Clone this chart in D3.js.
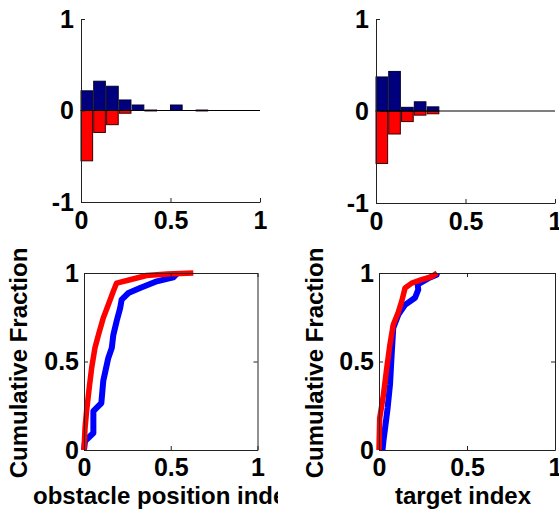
<!DOCTYPE html>
<html lang="en">
  <head>
    <meta charset="utf-8">
    <title>Histograms and cumulative fractions</title>
    <script src="https://d3js.org/d3.v7.min.js"></script>
    <style type="text/css">
      body { margin: 0; background: #fff; }
      text { font-family: "Liberation Sans", Arial, sans-serif; font-weight: bold; fill: #000; }
      .tick text { font-size: 25px; }
      .axis path, .axis line { stroke: #222; stroke-width: 1px; }
      .lbl { font-size: 24px; }
    </style>
  </head>
  <body>
    <script>
      var w = 559;
      var h = 514;

      // histogram bins (left edge of each bar)
      var obstacleBins = [0, 0.071, 0.143, 0.214, 0.286, 0.357, 0.429, 0.5, 0.571, 0.643];
      var obstacleBlue = [0.215, 0.32, 0.265, 0.115, 0.06, 0.005, 0, 0.06, 0, 0.005];
      var obstacleRed = [-0.55, -0.24, -0.155, -0.03, 0, -0.005, 0, 0, 0, -0.005];

      var targetBins = [0, 0.071, 0.143, 0.214, 0.286];
      var targetBlue = [0.37, 0.43, 0.04, 0.10, 0.045];
      var targetRed = [-0.57, -0.25, -0.115, -0.045, -0.03];

      // cumulative fractions [x, y]
      var obstacleCdfBlue = [[0, 0], [0.006, 0.05], [0.054, 0.096], [0.054, 0.22], [0.10, 0.265],
        [0.111, 0.39], [0.121, 0.435], [0.14, 0.52], [0.16, 0.576], [0.169, 0.65],
        [0.188, 0.727], [0.208, 0.80], [0.217, 0.85], [0.256, 0.887], [0.323, 0.915],
        [0.42, 0.953], [0.515, 0.975], [0.54, 1.0]];
      var obstacleCdfRed = [[0, 0], [0.006, 0.124], [0.015, 0.22], [0.03, 0.35], [0.044, 0.463],
        [0.063, 0.576], [0.083, 0.65], [0.111, 0.746], [0.14, 0.82], [0.169, 0.897],
        [0.188, 0.943], [0.265, 0.962], [0.36, 0.986], [0.48, 0.995], [0.63, 1.0]];

      var targetCdfBlue = [[0.02, 0], [0.025, 0.05], [0.034, 0.12], [0.049, 0.237], [0.0625, 0.37],
        [0.072, 0.54], [0.081, 0.69], [0.11, 0.765], [0.148, 0.82], [0.205, 0.86],
        [0.223, 0.906], [0.22, 0.935], [0.28, 0.97], [0.327, 0.99], [0.33, 1.0]];
      var targetCdfRed = [[0, 0], [0.004, 0.18], [0.025, 0.31], [0.044, 0.463], [0.062, 0.595],
        [0.081, 0.708], [0.11, 0.78], [0.129, 0.84], [0.148, 0.915], [0.186, 0.943],
        [0.242, 0.962], [0.30, 0.98], [0.33, 1.0]];

      var xTicks = [0, 0.5, 1];
      var histTicks = [-1, 0, 1];
      var cdfTicks = [0, 0.5, 1];

      var svg = d3.select("body").append("svg")
          .attr("width", w).attr("height", h);

      svg.append("rect").attr("width", w).attr("height", h).attr("fill", "#fff");

      var fmt = d => String(d);

      function histogram(x0, x1, yTop, yBot, bins, blue, red) {
        var x = d3.scaleLinear().domain([0, 1]).range([x0, x1]);
        var y = d3.scaleLinear().domain([-1, 1]).range([yBot, yTop]);
        var g = svg.append("g");
        var bw = 0.065;

        g.selectAll(".red").data(bins).enter().append("rect")
          .attr("x", d => x(d))
          .attr("width", x(bw) - x(0))
          .attr("y", y(0))
          .attr("height", (d, i) => y(red[i]) - y(0))
          .attr("fill", "#ff0000").attr("stroke", "#3a0000").attr("stroke-width", 1);

        g.selectAll(".blue").data(bins).enter().append("rect")
          .attr("x", d => x(d))
          .attr("width", x(bw) - x(0))
          .attr("y", (d, i) => y(blue[i]))
          .attr("height", (d, i) => y(0) - y(blue[i]))
          .attr("fill", "#00007f").attr("stroke", "#000030").attr("stroke-width", 1);

        g.append("line")
          .attr("x1", x(0)).attr("x2", x(1))
          .attr("y1", y(0)).attr("y2", y(0))
          .attr("stroke", "#000").attr("stroke-width", 1.2);

        g.append("g").attr("class", "axis")
          .attr("transform", "translate(0," + yBot + ")")
          .call(d3.axisBottom(x).tickValues(xTicks).tickFormat(fmt)
            .tickSize(-4).tickSizeOuter(0).tickPadding(9));
        g.append("g").attr("class", "axis")
          .attr("transform", "translate(" + x0 + ",0)")
          .call(d3.axisLeft(y).tickValues(histTicks).tickFormat(fmt)
            .tickSize(-4).tickSizeOuter(0).tickPadding(7));
      }

      function cdf(x0, x1, yTop, yBot, blue, red) {
        var x = d3.scaleLinear().domain([0, 1]).range([x0, x1]);
        var y = d3.scaleLinear().domain([0, 1]).range([yBot, yTop]);
        var g = svg.append("g");

        var line = d3.line().x(d => x(d[0])).y(d => y(d[1]));

        g.append("path").datum(blue).attr("d", line)
          .attr("fill", "none").attr("stroke", "#0000ff").attr("stroke-width", 6)
          .attr("stroke-linejoin", "round");
        g.append("path").datum(red).attr("d", line)
          .attr("fill", "none").attr("stroke", "#ff0000").attr("stroke-width", 5.5)
          .attr("stroke-linejoin", "round");

        g.append("g").attr("class", "axis")
          .attr("transform", "translate(0," + yBot + ")")
          .call(d3.axisBottom(x).tickValues(xTicks).tickFormat(fmt)
            .tickSize(-4).tickSizeOuter(0).tickPadding(8));
        g.append("g").attr("class", "axis")
          .attr("transform", "translate(" + x0 + ",0)")
          .call(d3.axisLeft(y).tickValues(cdfTicks).tickFormat(fmt)
            .tickSize(-4).tickSizeOuter(0).tickPadding(5));
        g.append("g").attr("class", "axis")
          .attr("transform", "translate(0," + yTop + ")")
          .call(d3.axisTop(x).tickValues(xTicks).tickFormat("")
            .tickSize(-4).tickSizeOuter(0));
        g.append("g").attr("class", "axis")
          .attr("transform", "translate(" + x1 + ",0)")
          .call(d3.axisRight(y).tickValues(cdfTicks).tickFormat("")
            .tickSize(-4).tickSizeOuter(0));
      }

      histogram(81, 260, 19, 202, obstacleBins, obstacleBlue, obstacleRed);
      histogram(376, 555, 19, 203, targetBins, targetBlue, targetRed);
      cdf(84, 257.5, 273, 450, obstacleCdfBlue, obstacleCdfRed);
      cdf(379, 555, 273, 450, targetCdfBlue, targetCdfRed);

      svg.selectAll(".domain").attr("stroke", "#222");

      // axis labels
      svg.append("text").attr("class", "lbl")
        .attr("transform", "translate(27,363) rotate(-90)")
        .attr("text-anchor", "middle")
        .text("Cumulative Fraction");
      svg.append("text").attr("class", "lbl")
        .attr("transform", "translate(323,363) rotate(-90)")
        .attr("text-anchor", "middle")
        .text("Cumulative Fraction");

      svg.append("clipPath").attr("id", "leftclip")
        .append("rect").attr("x", 0).attr("y", 470).attr("width", 278).attr("height", 44);
      svg.append("text").attr("class", "lbl")
        .attr("clip-path", "url(#leftclip)")
        .attr("x", 33).attr("y", 504)
        .text("obstacle position index");
      svg.append("text").attr("class", "lbl")
        .attr("x", 463).attr("y", 504)
        .attr("text-anchor", "middle")
        .text("target index");
    </script>
  </body>
</html>
